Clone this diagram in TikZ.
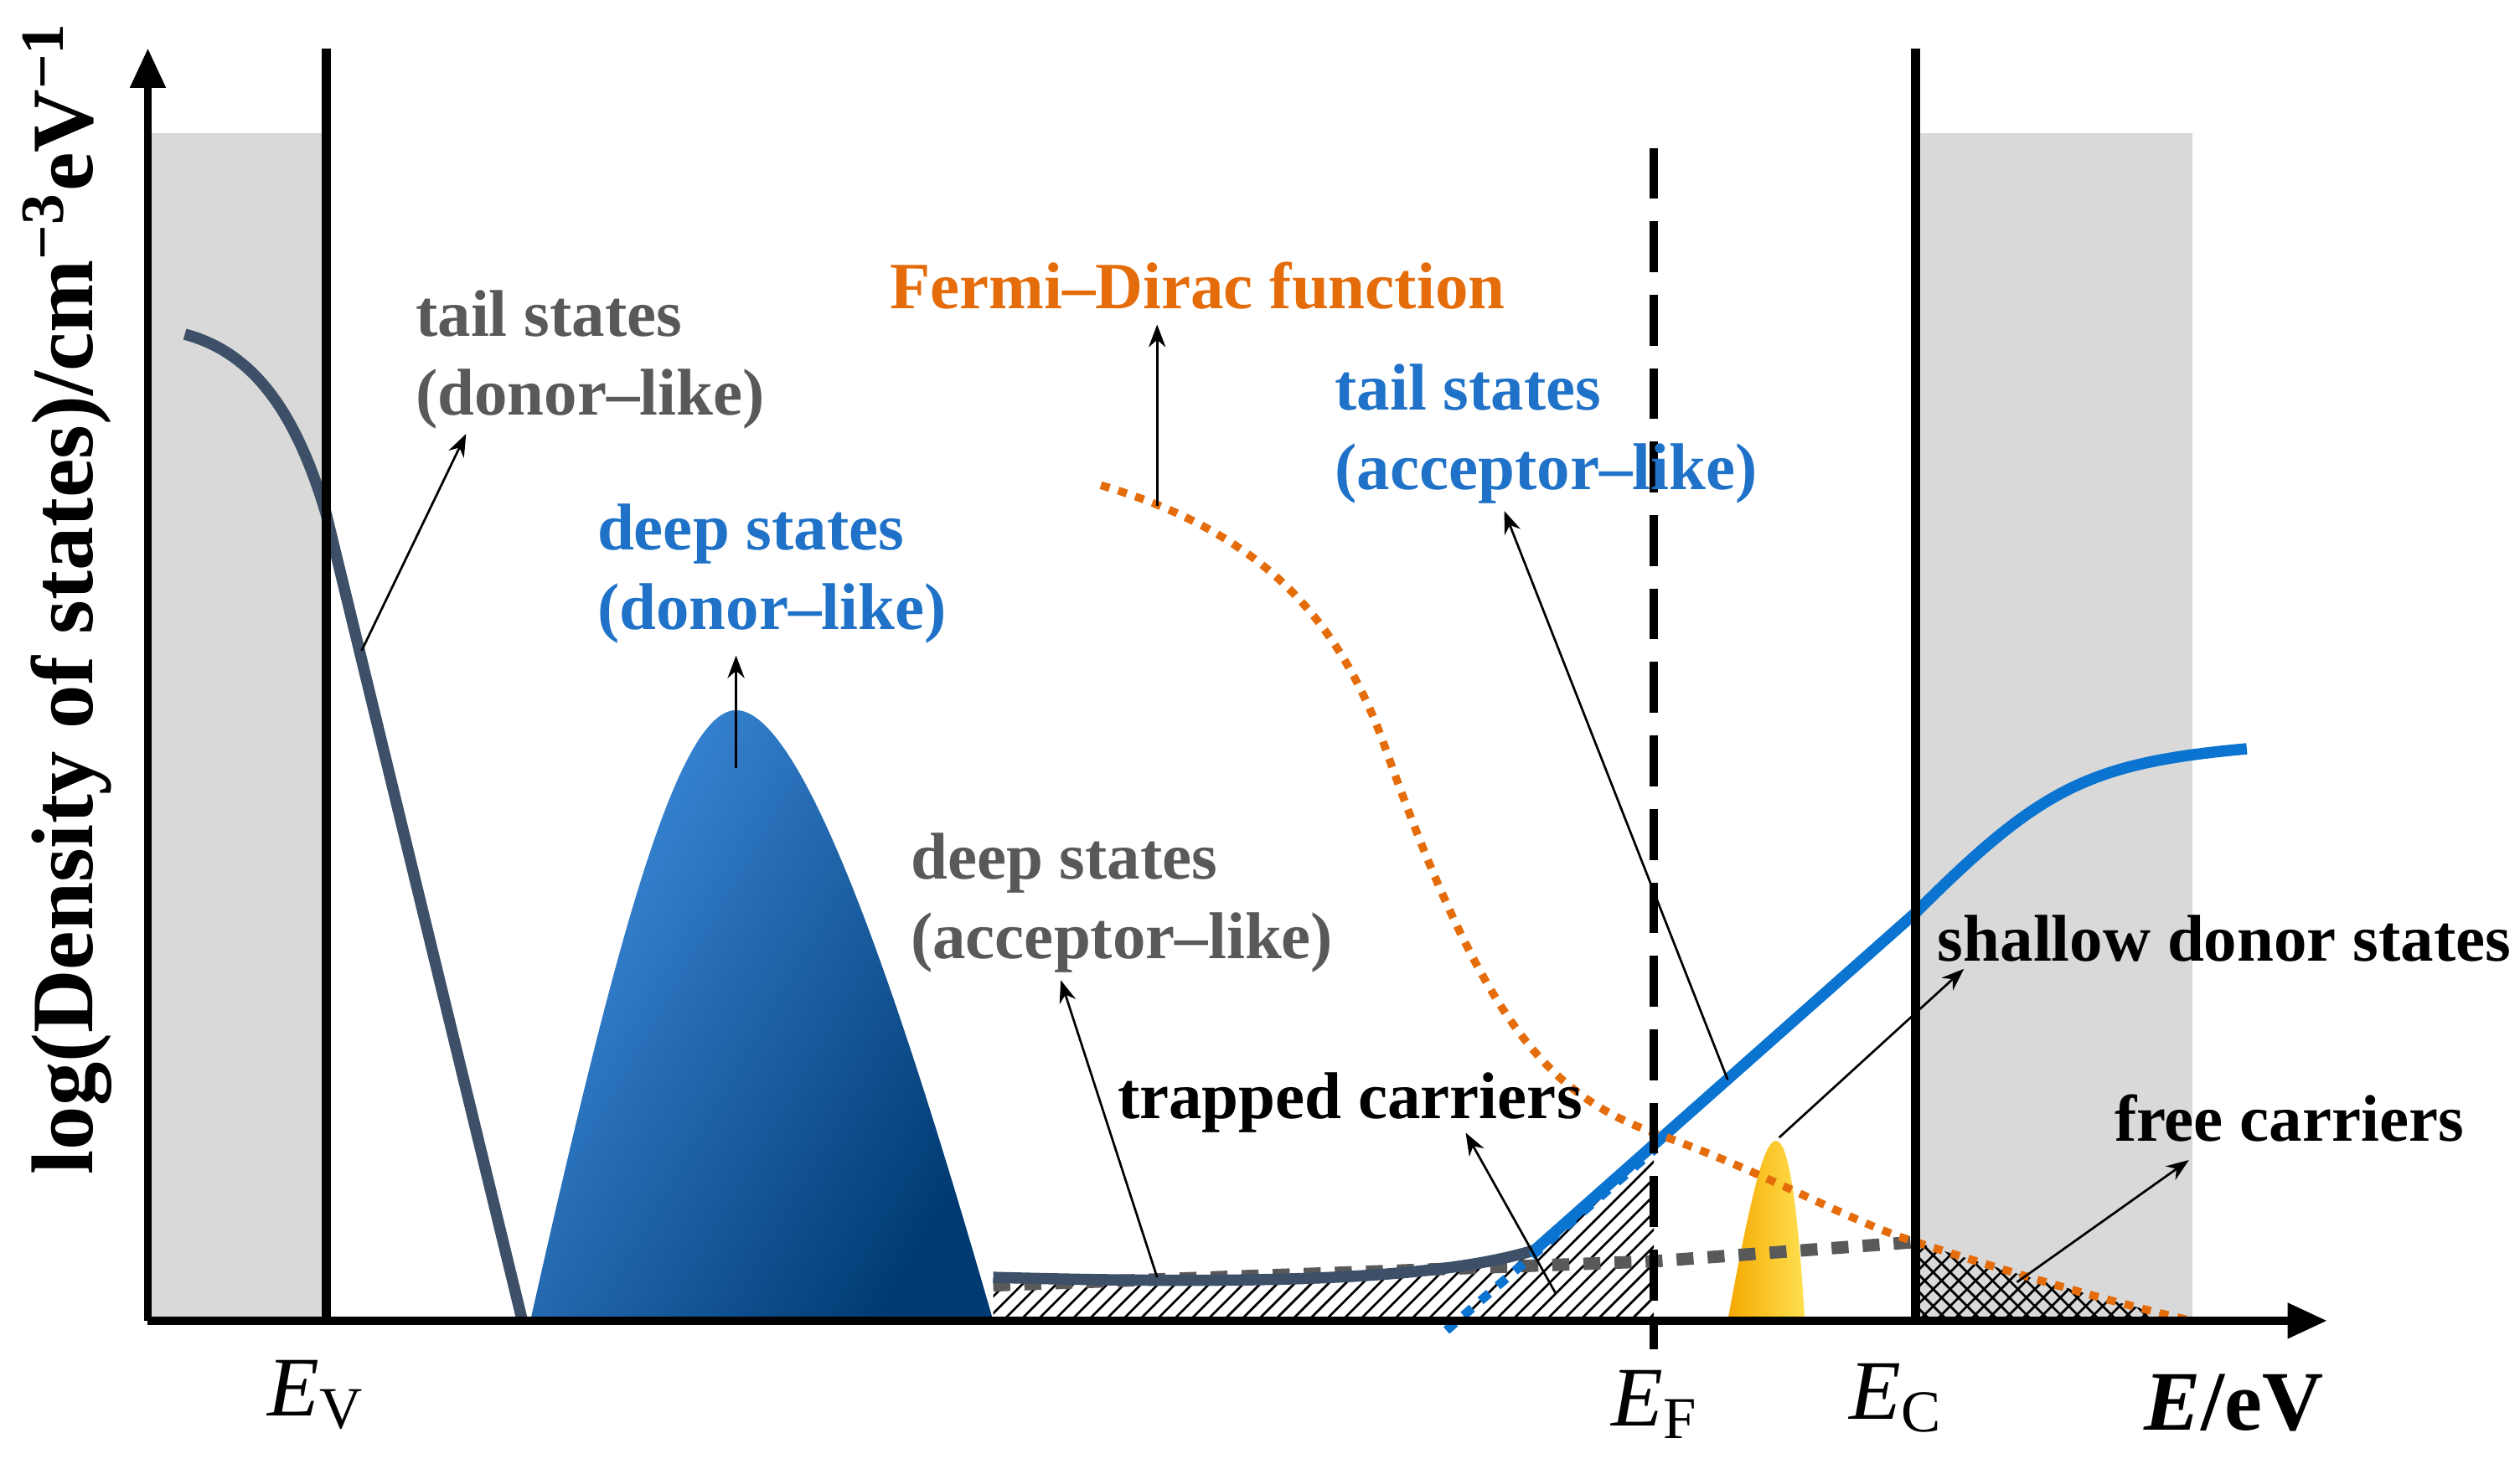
\documentclass[tikz,border=0pt]{standalone}
\usepackage{fontspec}
\setmainfont{Liberation Serif}
\usetikzlibrary{arrows.meta,patterns}
\definecolor{gbox}{HTML}{D9D9D9}
\definecolor{graytxt}{HTML}{595959}
\definecolor{bluetxt}{HTML}{1F72C8}
\definecolor{oran}{HTML}{E46C0A}
\definecolor{slate}{HTML}{3D5068}
\definecolor{lblue}{HTML}{0A74D0}
\definecolor{dlight}{HTML}{3C8ADB}
\definecolor{ddark}{HTML}{003A72}
\definecolor{yel1}{HTML}{F5A800}
\definecolor{yel2}{HTML}{FFE050}
\tikzset{
  lbl/.style={font=\fontsize{11.7}{14}\selectfont\bfseries, align=left, inner sep=0pt, anchor=west},
  ptr/.style={thin, -{Stealth[length=4pt,width=3pt]}},
  elab/.style={font=\fontsize{15}{17}\selectfont, inner sep=0pt}
}
\begin{document}
\begin{tikzpicture}[x=0.01cm,y=-0.01cm]
\useasboundingbox (0,0) rectangle (1568,908);
\fill[gbox] (93,83) rectangle (203,822);
\fill[gbox] (1192,83) rectangle (1364,822);
% hatched trapped carriers
\fill[pattern=north east lines] (618,822) -- (618,795) .. controls (800,800) and (900,795) .. (955,778) -- (1029,715) -- (1029,822) -- cycle;
% free carriers
\fill[pattern=crosshatch] (1192,822) -- (1192,773) .. controls (1260,795) and (1320,812) .. (1364,822) -- cycle;
% deep donor
\shade[left color=dlight, right color=ddark, shading angle=60] (330,822) .. controls (380,600) and (420,442) .. (458,442) .. controls (500,442) and (560,620) .. (618,822) -- cycle;
% yellow
\shade[left color=yel1, right color=yel2] (1075,822) .. controls (1090,740) and (1098,710) .. (1105,710) .. controls (1112,710) and (1118,740) .. (1123,822) -- cycle;
% gray dotted
\draw[graytxt, line width=2.2pt, dash pattern=on 3pt off 2.5pt] (618,800) -- (1029,785) -- (1192,773);
% valence tail
\draw[slate, line width=2pt] (115,208) .. controls (160,220) and (185,260) .. (203,320) -- (325,822);
% deep acceptor
\draw[slate, line width=2pt] (618,795) .. controls (800,800) and (900,795) .. (955,778);
% conduction tail
\draw[lblue, line width=2pt] (955,778) -- (1192,568) .. controls (1270,490) and (1300,475) .. (1398,466);
\draw[lblue, line width=1.6pt, dash pattern=on 2pt off 2pt] (900,828) -- (1030,715);
% Fermi
\draw[oran, line width=1.4pt, dash pattern=on 1.6pt off 1.6pt] (685,302) .. controls (780,330) and (830,380) .. (860,460) .. controls (920,630) and (960,680) .. (1029,705) .. controls (1100,730) and (1150,760) .. (1192,773) .. controls (1260,795) and (1320,812) .. (1364,822);
% axes
\draw[line width=1.4pt, -{Triangle[length=7pt,width=6pt]}] (92,822) -- (92,30);
\draw[line width=1.4pt, -{Triangle[length=7pt,width=6pt]}] (92,822) -- (1448,822);
\draw[line width=1.6pt] (203,30) -- (203,822);
\draw[line width=1.6pt] (1192,30) -- (1192,822);
\draw[line width=1.4pt, dash pattern=on 9pt off 4pt] (1029,92) -- (1029,840);
% labels
\node[elab] (ev) at (197,868) {\textit{E}\textsubscript{V}};
\node[elab] (ef) at (1030,874) {\textit{E}\textsubscript{F}};
\node[elab] (ec) at (1180,870) {\textit{E}\textsubscript{C}};
\node[elab, font=\fontsize{15}{17}\selectfont\bfseries] (ex) at (1390,873) {\textit{E}/eV};
\node[rotate=90, inner sep=0pt, font=\fontsize{15.5}{17}\selectfont\bfseries] (yl) at (42,372) {log(Density of states)/cm\textsuperscript{−3}eV\textsuperscript{−1}};
\node[lbl, text=graytxt] (tsd) at (258,224) {tail states\\(donor–like)};
\node[lbl, text=bluetxt] (dsd) at (371,357) {deep states\\(donor–like)};
\node[lbl, text=oran, anchor=center] (fd) at (745,178) {Fermi–Dirac function};
\node[lbl, text=bluetxt] (tsa) at (830,270) {tail states\\(acceptor–like)};
\node[lbl, text=graytxt] (dsa) at (566,562) {deep states\\(acceptor–like)};
\node[lbl, anchor=center] (tc) at (840,686) {trapped carriers};
\node[lbl] (sd) at (1205,584) {shallow donor states};
\node[lbl] (fc) at (1315,696) {free carriers};
% pointers
\coordinate (p1) at (225,405); \coordinate (q1) at (290,270);
\coordinate (p2) at (458,478); \coordinate (q2) at (458,408);
\coordinate (p3) at (720,315); \coordinate (q3) at (720,202);
\coordinate (p4) at (1075,672); \coordinate (q4) at (936,318);
\coordinate (p5) at (720,795); \coordinate (q5) at (660,610);
\coordinate (p6) at (968,805); \coordinate (q6) at (912,705);
\coordinate (p7) at (1107,708); \coordinate (q7) at (1222,603);
\coordinate (p8) at (1255,798); \coordinate (q8) at (1362,722);
\foreach \i in {1,...,8} \draw[ptr] (p\i) -- (q\i);
\end{tikzpicture}
\end{document}
